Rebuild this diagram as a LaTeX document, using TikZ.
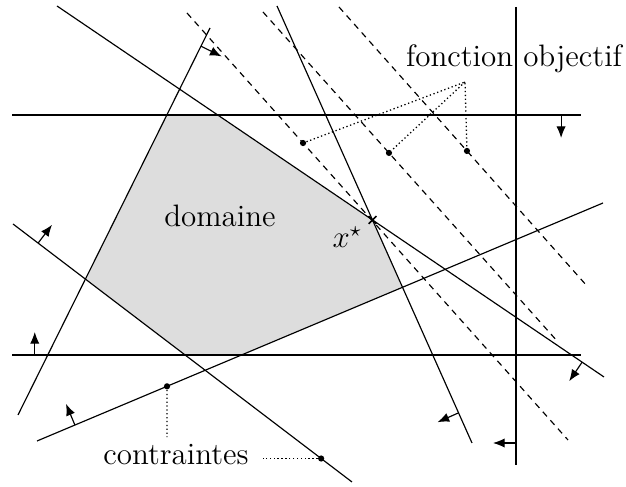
\documentclass[tikz,border=0pt]{standalone}
\usepackage{amsmath,amssymb}
\usepackage{tikz}
\usetikzlibrary{arrows.meta,calc,shapes.misc}
\definecolor{domgray}{RGB}{221,221,221}

\tikzset{
  cstr/.style={line width=0.45pt},
  levl/.style={line width=0.45pt,dash pattern=on 2.4pt off 2pt},
  pnt/.style={circle,fill,inner sep=0pt,minimum size=2.4pt},
  optm/.style={cross out,draw,line width=0.6pt,inner sep=0pt,minimum size=2.4pt},
  lbl/.style={font=\large,inner sep=0pt},
  link/.style={line width=0.5pt,densely dotted},
  side/.style={line width=0.45pt,-{Latex[length=4.5pt,width=3.6pt]}}
}

\begin{document}
\begin{tikzpicture}[scale=0.68]
  \useasboundingbox (0,0) rectangle (12.52,9.74);
  % constraints
  \coordinate (a1) at (1.14,9.62);  \coordinate (a2) at (12.08,2.20);
  \coordinate (b1) at (4.20,9.18);  \coordinate (b2) at (0.36,1.44);
  \coordinate (c1) at (0.26,5.26);  \coordinate (c2) at (7.04,0.10);
  \coordinate (d1) at (0.74,0.92);  \coordinate (d2) at (12.06,5.68);
  \coordinate (e1) at (5.54,9.62);  \coordinate (e2) at (9.44,0.88);
  \coordinate (h1) at (0.24,7.44);  \coordinate (h2) at (11.62,7.44);
  \coordinate (g1) at (0.24,2.64);  \coordinate (g2) at (11.62,2.64);
  \coordinate (v1) at (10.32,9.60); \coordinate (v2) at (10.32,0.44);
  % feasible set
  \fill[domgray] (intersection of h1--h2 and b1--b2) -- (intersection of h1--h2 and a1--a2)
    -- (intersection of a1--a2 and e1--e2) -- (intersection of e1--e2 and d1--d2)
    -- (intersection of d1--d2 and g1--g2) -- (intersection of g1--g2 and c1--c2)
    -- (intersection of c1--c2 and b1--b2) -- cycle;
  \foreach \p in {a,b,c,d,e,h,g,v}
    \draw[cstr] (\p1) -- (\p2);
  % level lines of the objective
  \draw[levl] (3.74,9.48) -- (11.36,0.94) node[pnt,pos=0.3045] (o1) {};
  \draw[levl] (5.26,9.50) -- (11.16,2.90) node[pnt,pos=0.427] (o2) {};
  \draw[levl] (6.78,9.60) -- (11.74,4.02) node[pnt,pos=0.516] (o3) {};
  \node[optm] (opt) at (intersection of a1--a2 and e1--e2) {};
  % which side is allowed
  \foreach \p/\t/\s in {b/0.047/90, c/0.074/90, g/0.040/90, d/0.067/90,
                        a/0.960/-90, e/0.931/-90, v/0.952/-90, h/0.965/-90}
    \draw[side] ($(\p1)!\t!(\p2)$) -- ($(\p1)!\t!(\p2)!0.46cm!\s:(\p2)$);
  \path (c1) -- (c2) node[pnt,pos=0.909] (k2) {};
  \path (d1) -- (d2) node[pnt,pos=0.2297] (k1) {};
  % labels
  \node[lbl,anchor=base] (dom) at (4.40,5.20) {domaine};
  \node[lbl,anchor=base west] (xs) at (6.64,4.78) {$x^\star$};
  \node[lbl,anchor=base] (obj) at (10.28,8.40) {fonction objectif};
  \coordinate (fo) at (9.30,8.10);
  \draw[link] (o1) -- (fo) -- (o3);
  \draw[link] (fo) -- (o2);
  \node[lbl,anchor=base,inner xsep=5.4pt,inner ysep=2.7pt] (cst) at (3.52,0.44) {contraintes};
  \draw[link] (k1) -- (k1 |- cst.north);
  \draw[link] (k2) -- (cst.east |- k2);
\end{tikzpicture}
\end{document}
